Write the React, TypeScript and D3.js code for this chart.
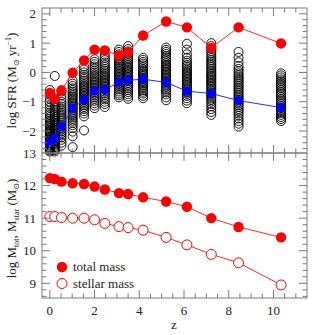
import React from 'react';
import * as d3 from 'd3';

const redshifts = [0, 0.22, 0.52, 1.02, 1.53, 2.0, 2.46, 3.09, 3.5, 4.17, 5.2, 6.13, 7.22, 8.44, 10.34];
const sfrTotal = [-0.7, -0.9, -0.61, -0.01, 0.41, 0.78, 0.75, 0.58, 0.69, 1.26, 1.74, 1.54, 0.84, 1.54, 0.99];
const sfrMean = [-2.4, -2.25, -1.85, -1.23, -0.93, -0.63, -0.59, -0.33, -0.27, -0.23, -0.34, -0.64, -0.72, -0.96, -1.2];
const logMtot = [12.23, 12.2, 12.12, 12.07, 12.05, 11.97, 11.88, 11.77, 11.74, 11.64, 11.51, 11.35, 11.0, 10.73, 10.41];
const logMstar = [11.05, 11.05, 11.02, 11.0, 11.0, 10.95, 10.84, 10.74, 10.71, 10.63, 10.41, 10.18, 9.89, 9.63, 8.95];

const sfrProgenitors: number[][] = [
  [-0.6, -0.75, -0.9, -1.0, -1.1, -1.2, -1.3, -1.38, -1.45, -1.52, -1.58, -1.65, -1.7, -1.75, -1.8, -1.85, -1.9, -1.95, -2.0, -2.03, -2.07, -2.1, -2.15, -2.2, -2.23, -2.27, -2.3, -2.35, -2.4, -2.43, -2.47, -2.5, -2.55, -2.58, -2.62, -2.66, -2.7],
  [-0.12, -0.9, -1.0, -1.1, -1.2, -1.28, -1.36, -1.45, -1.52, -1.6, -1.66, -1.72, -1.78, -1.84, -1.9, -1.95, -2.0, -2.05, -2.1, -2.15, -2.2, -2.25, -2.3, -2.35, -2.4, -2.45, -2.5, -2.55, -2.6, -2.65, -2.7],
  [-0.65, -0.78, -0.9, -1.0, -1.08, -1.16, -1.24, -1.3, -1.36, -1.42, -1.48, -1.54, -1.6, -1.66, -1.72, -1.78, -1.84, -1.9, -1.96, -2.02, -2.08, -2.15, -2.22, -2.3, -2.4, -2.5],
  [-0.28, -0.38, -0.46, -0.54, -0.6, -0.66, -0.72, -0.78, -0.83, -0.88, -0.93, -0.98, -1.03, -1.08, -1.13, -1.18, -1.23, -1.28, -1.34, -1.4, -1.46, -1.52, -1.58, -1.65, -1.72, -1.8, -1.9, -2.02, -2.18, -2.55],
  [0.2, 0.1, 0.0, -0.08, -0.15, -0.22, -0.28, -0.34, -0.4, -0.45, -0.5, -0.55, -0.6, -0.65, -0.7, -0.75, -0.8, -0.85, -0.9, -0.95, -1.0, -1.06, -1.12, -1.18, -1.25, -1.32, -1.4, -1.5, -1.98],
  [0.45, 0.36, 0.28, 0.2, 0.13, 0.06, 0.0, -0.06, -0.12, -0.17, -0.22, -0.27, -0.32, -0.37, -0.42, -0.47, -0.52, -0.57, -0.62, -0.67, -0.72, -0.78, -0.84, -0.9, -0.97, -1.05, -1.13, -1.22],
  [0.6, 0.5, 0.42, 0.34, 0.26, 0.19, 0.12, 0.06, 0.0, -0.05, -0.1, -0.15, -0.2, -0.25, -0.3, -0.35, -0.4, -0.45, -0.5, -0.55, -0.6, -0.66, -0.72, -0.78, -0.85, -0.92, -1.0, -1.08, -1.18],
  [0.78, 0.7, 0.62, 0.55, 0.48, 0.42, 0.36, 0.3, 0.25, 0.2, 0.15, 0.1, 0.05, 0.0, -0.05, -0.1, -0.15, -0.2, -0.25, -0.3, -0.35, -0.4, -0.46, -0.52, -0.58, -0.65, -0.72, -0.78, -0.85],
  [0.9, 0.8, 0.72, 0.64, 0.57, 0.5, 0.44, 0.38, 0.32, 0.26, 0.2, 0.15, 0.1, 0.05, 0.0, -0.05, -0.1, -0.15, -0.2, -0.25, -0.3, -0.36, -0.42, -0.48, -0.54, -0.6, -0.67, -0.74, -0.82, -0.9],
  [0.5, 0.43, 0.36, 0.3, 0.24, 0.18, 0.12, 0.07, 0.02, -0.03, -0.08, -0.13, -0.18, -0.23, -0.28, -0.33, -0.38, -0.43, -0.48, -0.54, -0.6, -0.66, -0.72, -0.8, -0.88],
  [0.85, 0.77, 0.7, 0.63, 0.56, 0.5, 0.44, 0.38, 0.32, 0.27, 0.22, 0.17, 0.12, 0.07, 0.02, -0.03, -0.08, -0.13, -0.18, -0.23, -0.28, -0.33, -0.38, -0.44, -0.5, -0.56, -0.62, -0.68, -0.75, -0.85, -0.95],
  [0.98, 0.78, 0.62, 0.5, 0.4, 0.33, 0.26, 0.2, 0.14, 0.08, 0.03, -0.02, -0.07, -0.12, -0.17, -0.22, -0.27, -0.32, -0.37, -0.42, -0.48, -0.54, -0.6, -0.66, -0.72, -0.8, -0.88, -0.96, -1.05],
  [1.0, 0.9, 0.8, 0.72, 0.64, 0.56, 0.49, 0.42, 0.36, 0.3, 0.24, 0.18, 0.12, 0.06, 0.0, -0.05, -0.1, -0.15, -0.2, -0.25, -0.3, -0.35, -0.4, -0.45, -0.5, -0.56, -0.62, -0.68, -0.74, -0.8, -0.86, -0.93, -1.0, -1.08, -1.16, -1.25, -1.35, -1.45],
  [0.7, 0.5, 0.35, 0.22, 0.12, 0.04, -0.03, -0.1, -0.16, -0.22, -0.28, -0.34, -0.4, -0.46, -0.52, -0.58, -0.64, -0.7, -0.76, -0.82, -0.88, -0.94, -1.0, -1.06, -1.12, -1.18, -1.25, -1.32, -1.4, -1.48, -1.57, -1.66, -1.75, -1.85],
  [-0.03, -0.1, -0.17, -0.24, -0.3, -0.36, -0.42, -0.48, -0.54, -0.6, -0.66, -0.72, -0.78, -0.84, -0.9, -0.96, -1.02, -1.08, -1.14, -1.2, -1.26, -1.32, -1.38, -1.45, -1.52, -1.59, -1.66],
];

const xMajorTicks = [0, 2, 4, 6, 8, 10];
const topMajorTicks = [-2, -1, 0, 1, 2];
const botMajorTicks = [9, 10, 11, 12, 13];

const FONT = '"Liberation Serif", "DejaVu Serif", serif';
const AXC = '#7a7a7a';
const TXT = '#222';

export default function App() {
  const W = 335, H = 335;
  const L = 42, R = 307, T = 8, M = 153, B = 298;
  const x = d3.scaleLinear().domain([-0.35, 11.5]).range([L, R]);
  const yTop = d3.scaleLinear().domain([-2.75, 2.2]).range([M, T]);
  const yBot = d3.scaleLinear().domain([8.55, 13]).range([B, M]);

  const xMinor = d3.range(0, 23).map((i) => i * 0.5);
  const topMinor = d3.range(-13, 11).map((i) => +(i * 0.2).toFixed(2));
  const botMinor = d3.range(43, 65).map((i) => +(i * 0.2).toFixed(2));
  const isInt = (v: number) => Math.abs(v - Math.round(v)) < 1e-6;

  const lineTop = d3.line<[number, number]>().x((d) => x(d[0])).y((d) => yTop(d[1]));
  const lineBot = d3.line<[number, number]>().x((d) => x(d[0])).y((d) => yBot(d[1]));

  const pairs = (ys: number[]) => redshifts.map((z, i) => [z, ys[i]] as [number, number]);

  const maj = 8, min = 4.5;

  const ticks: any[] = [];
  xMinor.forEach((v, i) => {
    const len = xMajorTicks.includes(v) ? maj : min;
    const px = x(v);
    ticks.push(<line key={`xt${i}`} x1={px} x2={px} y1={T} y2={T + len} />);
    ticks.push(<line key={`xm1${i}`} x1={px} x2={px} y1={M} y2={M - len} />);
    ticks.push(<line key={`xm2${i}`} x1={px} x2={px} y1={M} y2={M + len} />);
    ticks.push(<line key={`xb${i}`} x1={px} x2={px} y1={B} y2={B - len} />);
  });
  topMinor.forEach((v, i) => {
    const len = isInt(v) ? maj : min;
    const py = yTop(v);
    ticks.push(<line key={`tl${i}`} x1={L} x2={L + len} y1={py} y2={py} />);
    ticks.push(<line key={`tr${i}`} x1={R} x2={R - len} y1={py} y2={py} />);
  });
  botMinor.forEach((v, i) => {
    const len = isInt(v) ? maj : min;
    const py = yBot(v);
    ticks.push(<line key={`bl${i}`} x1={L} x2={L + len} y1={py} y2={py} />);
    ticks.push(<line key={`br${i}`} x1={R} x2={R - len} y1={py} y2={py} />);
  });

  const fmt = (v: number) => (v < 0 ? '\u2212' + Math.abs(v) : String(v));

  return (
    <svg width={W} height={H} style={{ position: 'absolute', left: 0, top: 0, background: '#fff', fontFamily: FONT }}>
      <g fill="none" stroke="#000" strokeWidth={0.9}>
        {sfrProgenitors.map((col, ci) =>
          col.map((v, j) => <circle key={`p${ci}-${j}`} cx={x(redshifts[ci])} cy={yTop(v)} r={4.5} />)
        )}
      </g>
      <path d={lineTop(pairs(sfrTotal)) || ''} fill="none" stroke="#ff2a2a" strokeWidth={1} />
      <g fill="#ff0000">
        {sfrTotal.map((v, i) => <circle key={`rt${i}`} cx={x(redshifts[i])} cy={yTop(v)} r={5.2} />)}
      </g>
      <path d={lineTop(pairs(sfrMean)) || ''} fill="none" stroke="#2a2aff" strokeWidth={1} />
      <g fill="#0000ff">
        {sfrMean.map((v, i) => <circle key={`bm${i}`} cx={x(redshifts[i])} cy={yTop(v)} r={4.6} />)}
      </g>

      <path d={lineBot(pairs(logMtot)) || ''} fill="none" stroke="#ff2a2a" strokeWidth={1} />
      <path d={lineBot(pairs(logMstar)) || ''} fill="none" stroke="#ff2a2a" strokeWidth={1} />
      <g fill="#ff0000">
        {logMtot.map((v, i) => <circle key={`mt${i}`} cx={x(redshifts[i])} cy={yBot(v)} r={5.2} />)}
      </g>
      <g fill="#fff" stroke="#ff0000" strokeWidth={1}>
        {logMstar.map((v, i) => <circle key={`ms${i}`} cx={x(redshifts[i])} cy={yBot(v)} r={5} />)}
      </g>

      <circle cx={62} cy={267} r={5.2} fill="#ff0000" />
      <text x={73} y={271} fontSize={13} fill={TXT} style={{ fontFamily: FONT }}>total mass</text>
      <circle cx={62} cy={283.5} r={5} fill="#fff" stroke="#ff0000" strokeWidth={1} />
      <text x={73} y={287.5} fontSize={13} fill={TXT} style={{ fontFamily: FONT }}>stellar mass</text>

      <g stroke={AXC} strokeWidth={1} fill="none">
        {ticks}
        <rect x={L} y={T} width={R - L} height={M - T} />
        <rect x={L} y={M} width={R - L} height={B - M} />
      </g>

      <g fontSize={13} fill={TXT} style={{ fontFamily: FONT }}>
        {xMajorTicks.map((v) => (
          <text key={`xl${v}`} x={x(v)} y={315} textAnchor="middle">{v}</text>
        ))}
        {topMajorTicks.map((v) => (
          <text key={`tyl${v}`} x={36} y={yTop(v) + 4.5} textAnchor="end">{fmt(v)}</text>
        ))}
        {botMajorTicks.map((v) => (
          <text key={`byl${v}`} x={36} y={yBot(v) + 4.5} textAnchor="end">{v}</text>
        ))}
      </g>

      <text x={174} y={329} fontSize={13} fill={TXT} textAnchor="middle" style={{ fontFamily: FONT }}>z</text>
      <text transform={`translate(16,${(T + M) / 2}) rotate(-90)`} fontSize={13} fill={TXT} textAnchor="middle" style={{ fontFamily: FONT }}>
        log SFR (M<tspan fontSize={8} dy={3}>⊙</tspan><tspan dy={-3}> yr</tspan><tspan fontSize={8} dy={-5}>−1</tspan><tspan dy={5}>)</tspan>
      </text>
      <text transform={`translate(16,${(M + B) / 2 + 3}) rotate(-90)`} fontSize={13} fill={TXT} textAnchor="middle" style={{ fontFamily: FONT }}>
        log M<tspan fontSize={8} dy={3}>tot</tspan><tspan dy={-3}>, M</tspan><tspan fontSize={8} dy={3}>star</tspan><tspan dy={-3}> (M</tspan><tspan fontSize={8} dy={3}>⊙</tspan><tspan dy={-3}>)</tspan>
      </text>
    </svg>
  );
}
